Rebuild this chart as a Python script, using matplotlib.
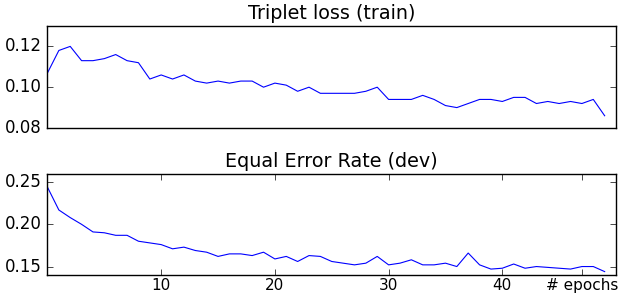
import matplotlib
matplotlib.use('Agg')
import matplotlib.pyplot as plt
import numpy as np

plt.style.use('classic')

epochs = np.arange(50)

triplet_loss = [0.107, 0.118, 0.120, 0.113, 0.113, 0.114, 0.116, 0.113, 0.112, 0.104,
                0.106, 0.104, 0.106, 0.103, 0.102, 0.103, 0.102, 0.103, 0.103, 0.100,
                0.102, 0.101, 0.098, 0.100, 0.097, 0.097, 0.097, 0.097, 0.098, 0.100,
                0.094, 0.094, 0.094, 0.096, 0.094, 0.091, 0.090, 0.092, 0.094, 0.094,
                0.093, 0.095, 0.095, 0.092, 0.093, 0.092, 0.093, 0.092, 0.094, 0.086]

eer_dev = [0.244, 0.217, 0.208, 0.200, 0.191, 0.190, 0.187, 0.187, 0.180, 0.178,
           0.176, 0.171, 0.173, 0.169, 0.167, 0.162, 0.165, 0.165, 0.163, 0.167,
           0.159, 0.162, 0.156, 0.163, 0.162, 0.156, 0.154, 0.152, 0.154, 0.162,
           0.152, 0.154, 0.158, 0.152, 0.152, 0.154, 0.150, 0.166, 0.152, 0.147,
           0.148, 0.153, 0.148, 0.150, 0.149, 0.148, 0.147, 0.150, 0.150, 0.144]

xtick_pos = [10, 20, 30, 40, 47]
xtick_labels = ['10', '20', '30', '40', '# epochs']

fig = plt.figure(figsize=(6.19, 2.96), dpi=100, facecolor='white')

ax1 = fig.add_axes([0.0767, 0.5676, 0.9185, 0.3446])
ax1.plot(epochs, triplet_loss, 'b-', lw=0.8)
ax1.set_xlim(0, 50)
ax1.set_ylim(0.08, 0.13)
ax1.set_yticks([0.08, 0.10, 0.12])
ax1.set_xticks([])
ax1.set_title('Triplet loss (train)', fontsize=13.8)

ax2 = fig.add_axes([0.0767, 0.071, 0.9185, 0.3422])
ax2.plot(epochs, eer_dev, 'b-', lw=0.8)
ax2.set_xlim(0, 50)
ax2.set_ylim(0.14, 0.26)
ax2.set_yticks([0.15, 0.20, 0.25])
ax2.set_xticks(xtick_pos)
ax2.set_xticklabels(xtick_labels)
ax2.tick_params(axis='x', labelsize=11, pad=2)
ax2.set_title('Equal Error Rate (dev)', fontsize=13.8)

fig.savefig('out.png', dpi=100, facecolor='white')
